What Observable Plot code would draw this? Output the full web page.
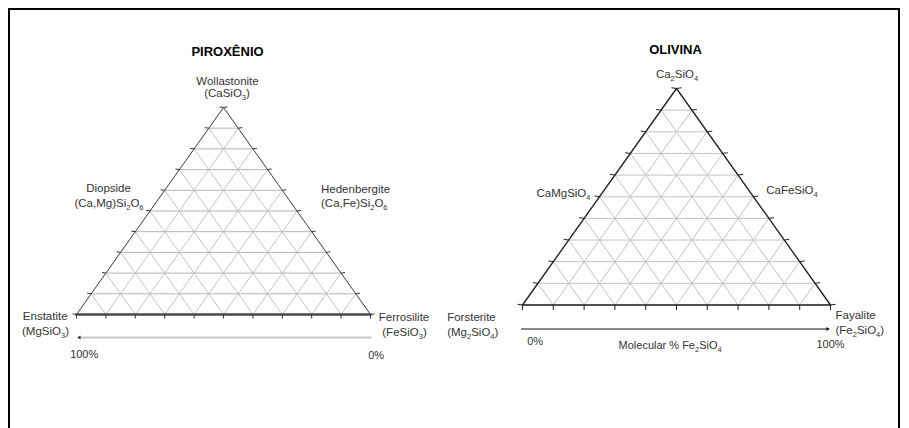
<!DOCTYPE html>
<html><head><meta charset="utf-8">
<script src="https://cdn.jsdelivr.net/npm/d3@7"></script>
<script src="https://cdn.jsdelivr.net/npm/@observablehq/plot@0.6"></script>
<style>
html,body{margin:0;padding:0;background:#fff;overflow:hidden;}
#wrap{position:relative;width:909px;height:428px;overflow:hidden;background:#fff;}
#frame{position:absolute;left:8px;top:8px;width:892px;height:440px;border:2px solid #000;box-sizing:border-box;}
#wrap svg{position:absolute;left:0;top:0;}
</style></head>
<body><div id="wrap"><div id="frame"></div></div>
<script>
// ---------- data ----------
const gridLevels = [0.1, 0.2, 0.3, 0.4, 0.5, 0.6, 0.7, 0.8, 0.9];
const tickLevels = [0, 0.1, 0.2, 0.3, 0.4, 0.5, 0.6, 0.7, 0.8, 0.9, 1];
// ternary compositions [a = bottom-left, b = bottom-right, c = top]
const vertexComp = [[1, 0, 0], [0, 1, 0], [0, 0, 1]];
const joinComp = [[0.5, 0, 0.5], [0, 0.5, 0.5]];
const baseMidComp = [0.5, 0.5, 0];

const pyroxTitle = "PIROXÊNIO";
const pyroxEndMembers = ["Enstatite", "Ferrosilite", "Wollastonite"];
const pyroxEndFormulas = ["(MgSiO_3)", "(FeSiO_3)", "(CaSiO_3)"];
const pyroxJoins = ["Diopside", "Hedenbergite"];
const pyroxJoinFormulas = ["(Ca,Mg)Si_2O_6", "(Ca,Fe)Si_2O_6"];
const pyroxScale = ["100%", "0%"];

const olivTitle = "OLIVINA";
const olivEndMembers = ["Forsterite", "Fayalite", "Ca_2SiO_4"];
const olivEndFormulas = ["(Mg_2SiO_4)", "(Fe_2SiO_4)"];
const olivJoins = ["CaMgSiO_4", "CaFeSiO_4"];
const olivScale = ["0%", "100%"];
const olivAxisLabel = "Molecular % Fe_2SiO_4";

// ---------- helpers ----------
const tern = ([a, b, c]) => ({x: b + c / 2, y: c});
const FONT = "'Liberation Sans', Arial, Helvetica, sans-serif";

function gridLines() {
  return gridLevels.flatMap(t => [
    {kind: "h", p1: tern([1 - t, 0, t]), p2: tern([0, 1 - t, t])},
    {kind: "d", p1: tern([1 - t, t, 0]), p2: tern([0, t, 1 - t])},
    {kind: "d", p1: tern([t, 1 - t, 0]), p2: tern([t, 0, 1 - t])}
  ]);
}
const leftTicks = () => tickLevels.map(t => tern([1 - t, 0, t]));
const rightTicks = () => tickLevels.map(t => tern([0, 1 - t, t]));
const baseTicks = () => tickLevels.map(t => tern([1 - t, t, 0]));

const tickSymbol = (ux, uy, len) => ({draw(ctx) { ctx.moveTo(0, 0); ctx.lineTo(ux * len, uy * len); }});

const lab = (text, p, dx, dy, o = {}) =>
  Plot.text([p], {x: "x", y: "y", text: () => text, dx, dy, fontSize: 11.5, fill: "#333", ...o});

const linkOpts = {x1: d => d.p1.x, y1: d => d.p1.y, x2: d => d.p2.x, y2: d => d.p2.y};

function subscriptify(svg) {
  svg.querySelectorAll("text").forEach(el => {
    const s = el.textContent;
    if (!s.includes("_")) return;
    el.textContent = "";
    const parts = s.split(/_(\d)/);
    let shifted = false;
    parts.forEach((p, i) => {
      if (!p) return;
      const ts = document.createElementNS("http://www.w3.org/2000/svg", "tspan");
      ts.textContent = p;
      if (i % 2 === 1) { ts.setAttribute("font-size", "7.5"); ts.setAttribute("dy", "3"); shifted = true; }
      else if (shifted) { ts.setAttribute("dy", "-3"); shifted = false; }
      el.appendChild(ts);
    });
  });
  return svg;
}

function basePlot(margins, marks) {
  return Plot.plot({
    width: 909, height: 428,
    ...margins,
    x: {domain: [0, 1], axis: null},
    y: {domain: [0, 1], axis: null},
    style: {background: "transparent", overflow: "visible", fontFamily: FONT},
    marks
  });
}

// ---------- PIROXÊNIO ----------
{
  const V = vertexComp.map(tern);
  const J = joinComp.map(tern);
  const grid = gridLines();
  const tl = 4;
  const svg = basePlot(
    {marginLeft: 76, marginRight: 539, marginTop: 107, marginBottom: 114},
    [
      Plot.link(grid.filter(d => d.kind === "d"), {...linkOpts, stroke: "#c4c4c4", strokeWidth: 1}),
      Plot.link(grid.filter(d => d.kind === "h"), {...linkOpts, stroke: "#b4b4b4", strokeWidth: 1}),
      Plot.line([V[0], V[2], V[1]], {x: "x", y: "y", stroke: "#3a3a3a", strokeWidth: 1}),
      Plot.line([V[0], V[1]], {x: "x", y: "y", stroke: "#4a4a4a", strokeWidth: 2.6}),
      Plot.dot(leftTicks(), {x: "x", y: "y", symbol: tickSymbol(-1, -0.15, tl), fill: "none", stroke: "#333", strokeWidth: 1}),
      Plot.dot(rightTicks(), {x: "x", y: "y", symbol: tickSymbol(1, -0.15, tl), fill: "none", stroke: "#333", strokeWidth: 1}),
      Plot.dot(baseTicks(), {x: "x", y: "y", symbol: tickSymbol(0, 1, tl), fill: "none", stroke: "#333", strokeWidth: 1}),
      // scale arrow
      Plot.link([{p1: V[1], p2: V[0]}], {...linkOpts, dy: 23, dx: 1, stroke: "#c8c8c8", strokeWidth: 2}),
      Plot.dot([V[0]], {x: "x", y: "y", dx: 3, dy: 23, symbol: "triangle2", rotate: -90, r: 1.8, fill: "#333", stroke: "none"}),
      // labels
      lab(pyroxTitle, V[2], 4, -56, {fontSize: 13, fontWeight: "bold", fill: "#000"}),
      lab(pyroxEndMembers[2], V[2], 4, -26),
      lab(pyroxEndFormulas[2], V[2], 3.5, -14),
      lab(pyroxJoins[0], J[0], -41.5, -22.5),
      lab(pyroxJoinFormulas[0], J[0], -41, -8),
      lab(pyroxJoins[1], J[1], 24, -21.5, {textAnchor: "start"}),
      lab(pyroxJoinFormulas[1], J[1], 24, -7.5, {textAnchor: "start"}),
      lab(pyroxEndMembers[0], V[0], -31.3, 1.5),
      lab(pyroxEndFormulas[0], V[0], -31, 17),
      lab(pyroxEndMembers[1], V[1], 33.5, 2.5),
      lab(pyroxEndFormulas[1], V[1], 34, 18),
      lab(pyroxScale[0], V[0], 7.7, 39.5, {fontSize: 11}),
      lab(pyroxScale[1], V[1], 5.7, 41.3, {fontSize: 11})
    ]
  );
  document.getElementById("wrap").appendChild(subscriptify(svg));
}

// ---------- OLIVINA ----------
{
  const V = vertexComp.map(tern);
  const J = joinComp.map(tern);
  const M = tern(baseMidComp);
  const grid = gridLines();
  const tl = 5;
  const svg = basePlot(
    {marginLeft: 522, marginRight: 79, marginTop: 88, marginBottom: 123.5},
    [
      Plot.link(grid, {...linkOpts, stroke: "#c2c2c2", strokeWidth: 1}),
      Plot.line([V[0], V[2], V[1]], {x: "x", y: "y", stroke: "#1a1a1a", strokeWidth: 1.3}),
      Plot.line([V[0], V[1]], {x: "x", y: "y", stroke: "#1a1a1a", strokeWidth: 1.5}),
      Plot.dot(leftTicks(), {x: "x", y: "y", symbol: tickSymbol(-1, -0.15, tl), fill: "none", stroke: "#222", strokeWidth: 1}),
      Plot.dot(rightTicks(), {x: "x", y: "y", symbol: tickSymbol(1, -0.15, tl), fill: "none", stroke: "#222", strokeWidth: 1}),
      Plot.dot(baseTicks(), {x: "x", y: "y", symbol: tickSymbol(0, 1, tl), fill: "none", stroke: "#222", strokeWidth: 1}),
      // scale arrow
      Plot.link([{p1: V[0], p2: V[1]}], {...linkOpts, dy: 24, dx: -1.5, stroke: "#111", strokeWidth: 1}),
      Plot.dot([V[1]], {x: "x", y: "y", dx: -3, dy: 24, symbol: "triangle2", rotate: 90, r: 1.8, fill: "#111", stroke: "none"}),
      // labels
      lab(olivTitle, V[2], -1, -38.5, {fontSize: 13, fontWeight: "bold", fill: "#000"}),
      lab(olivEndMembers[2], V[2], 0.5, -14),
      lab(olivJoins[0], J[0], -9, -3, {textAnchor: "end"}),
      lab(olivJoins[1], J[1], 12.7, -6.8, {textAnchor: "start"}),
      lab(olivEndMembers[0], V[0], -75.3, 12.8, {textAnchor: "start"}),
      lab(olivEndFormulas[0], V[0], -75.3, 27.5, {textAnchor: "start"}),
      lab(olivEndMembers[1], V[1], 5, 10.2, {textAnchor: "start"}),
      lab(olivEndFormulas[1], V[1], 5, 25, {textAnchor: "start"}),
      lab(olivScale[0], V[0], 12.7, 36.2, {fontSize: 11}),
      lab(olivScale[1], V[1], 0, 39.5, {fontSize: 11}),
      lab(olivAxisLabel, M, -6.4, 40.5, {fontSize: 11})
    ]
  );
  document.getElementById("wrap").appendChild(subscriptify(svg));
}
</script>
</body></html>
